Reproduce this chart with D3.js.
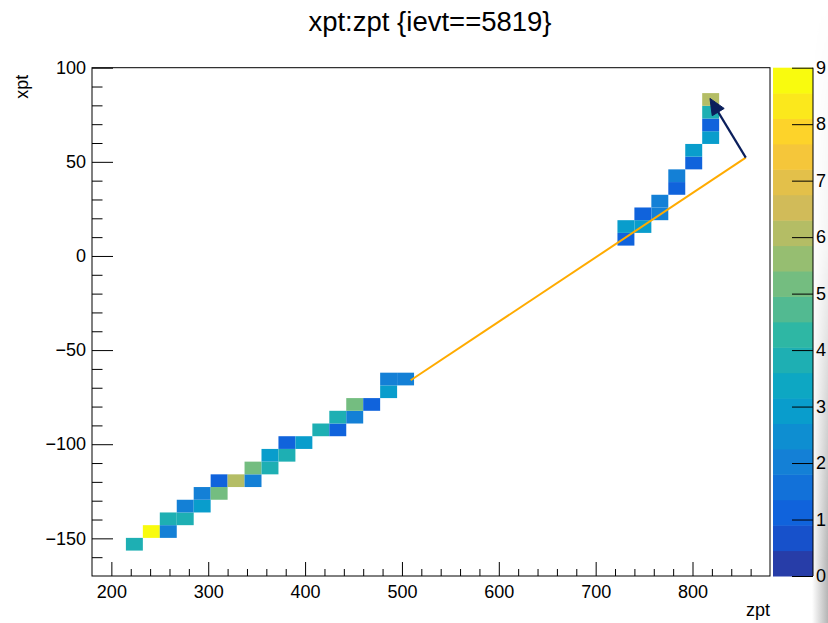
<!DOCTYPE html>
<html><head><meta charset="utf-8">
<script src="https://cdn.jsdelivr.net/npm/d3@7"></script>
<style>body{margin:0;background:#fff}svg{display:block;font-family:"Liberation Sans",Arial,Helvetica,sans-serif}</style>
</head><body><svg id="c" width="828" height="623"></svg>
<script>
// ---- data ----
const chartTitle = "xpt:zpt {ievt==5819}";
const zptRange = [180, 880];
const xptRange = [-170, 100];
const nBinsZpt = 40;
const nBinsXpt = 40;
// filled cells: bin index along zpt, bin index along xpt, bin content
const zptBin = [2,3,4,4,5,5,6,6,7,7,8,9,9,10,10,11,11,12,13,14,14,15,15,16,17,17,18,
                31,31,32,32,33,33,34,34,35,35,36,36,36,36];
const xptBin = [2,3,3,4,4,5,5,6,6,7,7,7,8,8,9,9,10,10,11,11,12,12,13,13,14,15,15,
                26,27,27,28,28,29,30,31,32,33,34,35,36,37];
const counts = [4,9,2,4,4,2,3,2,5,1,6,2,5,4,3,4,1,3,4,1,4,2,5,1,3,2,2,
                1,3,3,1,2,2,1,2,1,3,3,1,4,6];
const zptTicks = [200,300,400,500,600,700,800];
const xptTicks = [-150,-100,-50,0,50,100];
const zRange = [0, 9];
const zTicks = [0,1,2,3,4,5,6,7,8,9];
const nContours = 20;
const trackZ = [509, 855];
const trackX = [-66, 52.2];
const arrowZ = [855, 818];
const arrowX = [52.2, 83.7];
// kBird palette stops
const birdStops = [0.0000,0.1250,0.2500,0.3750,0.5000,0.6250,0.7500,0.8750,1.0000];
const birdR = [0.2082,0.0592,0.0780,0.0232,0.1802,0.5301,0.8186,0.9956,0.9764];
const birdG = [0.1664,0.3599,0.5041,0.6419,0.7178,0.7492,0.7328,0.7862,0.9832];
const birdB = [0.5293,0.8684,0.8385,0.7914,0.6425,0.4662,0.3499,0.1968,0.0539];

// ---- layout ----
const svg = d3.select("#c");
const fL = 92, fR = 770, fT = 67.7, fB = 576;
const pL = 773, pR = 813;
const x = d3.scaleLinear().domain(zptRange).range([fL, fR]);
const y = d3.scaleLinear().domain(xptRange).range([fB, fT]);
const z = d3.scaleLinear().domain(zRange).range([fB, fT]);

const rS = d3.scaleLinear().domain(birdStops).range(birdR);
const gS = d3.scaleLinear().domain(birdStops).range(birdG);
const bS = d3.scaleLinear().domain(birdStops).range(birdB);
function bird(t){ return d3.rgb(rS(t)*255, gS(t)*255, bS(t)*255).toString(); }
const nColors = 255;
function bandColor(i){
  const idx = Math.min(nColors-1, Math.floor((i+0.99)*nColors/nContours));
  return bird(idx/(nColors-1));
}
function valueColor(c){
  let i = Math.floor((c - zRange[0])/(zRange[1]-zRange[0])*nContours);
  i = Math.max(0, Math.min(nContours-1, i));
  return bandColor(i);
}

// shadow at right edge
const defs = svg.append("defs");
const hg = defs.append("linearGradient").attr("id","hg").attr("x1",0).attr("x2",1).attr("y1",0).attr("y2",0);
hg.append("stop").attr("offset",0).attr("stop-color","#fff");
hg.append("stop").attr("offset",1).attr("stop-color","#b5b5b5");
const vg = defs.append("linearGradient").attr("id","vg").attr("x1",0).attr("x2",0).attr("y1",0).attr("y2",1);
vg.append("stop").attr("offset",0).attr("stop-color","#fff").attr("stop-opacity",0);
vg.append("stop").attr("offset",0.4).attr("stop-color","#fff").attr("stop-opacity",0.15);
vg.append("stop").attr("offset",0.9).attr("stop-color","#fff").attr("stop-opacity",1);
vg.append("stop").attr("offset",1).attr("stop-color","#fff").attr("stop-opacity",1);
const mk = defs.append("mask").attr("id","mk");
mk.append("rect").attr("x",812).attr("y",0).attr("width",16).attr("height",623).attr("fill","url(#vg)");
svg.append("rect").attr("x",812).attr("y",0).attr("width",16).attr("height",623)
  .attr("fill","url(#hg)").attr("mask","url(#mk)");

// cells
const bwZ = (zptRange[1]-zptRange[0])/nBinsZpt;
const bwX = (xptRange[1]-xptRange[0])/nBinsXpt;
const cells = counts.map((c,i)=>({k:zptBin[i], j:xptBin[i], c}));
svg.append("g").selectAll("rect").data(cells).join("rect")
  .attr("x", d=>x(zptRange[0]+d.k*bwZ))
  .attr("width", d=>x(zptRange[0]+(d.k+1)*bwZ)-x(zptRange[0]+d.k*bwZ))
  .attr("y", d=>y(xptRange[0]+(d.j+1)*bwX))
  .attr("height", d=>y(xptRange[0]+d.j*bwX)-y(xptRange[0]+(d.j+1)*bwX))
  .attr("fill", d=>valueColor(d.c));

// frame
svg.append("rect").attr("x",fL).attr("y",fT).attr("width",fR-fL).attr("height",fB-fT)
  .attr("fill","none").attr("stroke","#000").attr("stroke-width",1);

// axes
const fmt = d3.format("");
const minorZ = d3.range(200, 880, 20).filter(v=>!zptTicks.includes(v));
const minorX = d3.range(-160, 100, 10).filter(v=>!xptTicks.includes(v));

const gx = svg.append("g").attr("transform",`translate(0,${fB})`);
gx.call(d3.axisBottom(x).tickValues(zptTicks).tickSizeInner(-14).tickSizeOuter(0).tickPadding(9).tickFormat(fmt));
gx.append("g").call(d3.axisBottom(x).tickValues(minorZ).tickSizeInner(-7).tickSizeOuter(0).tickFormat(""));
const gy = svg.append("g").attr("transform",`translate(${fL},0)`);
gy.call(d3.axisLeft(y).tickValues(xptTicks).tickSizeInner(-21).tickSizeOuter(0).tickPadding(6).tickFormat(d3.format("")));
gy.append("g").call(d3.axisLeft(y).tickValues(minorX).tickSizeInner(-10.5).tickSizeOuter(0).tickFormat(""));
svg.selectAll(".domain").remove();
svg.selectAll(".tick line").attr("stroke","#000").attr("stroke-width",1);
svg.selectAll(".tick text").attr("font-size",18).attr("fill","#000")
  .attr("font-family",'"Liberation Sans",Arial,sans-serif');

// palette
const bands = d3.range(nContours);
const dz = (zRange[1]-zRange[0])/nContours;
svg.append("g").selectAll("rect").data(bands).join("rect")
  .attr("x",pL).attr("width",pR-pL)
  .attr("y",i=>z(zRange[0]+(i+1)*dz))
  .attr("height",i=>z(zRange[0]+i*dz)-z(zRange[0]+(i+1)*dz)+0.5)
  .attr("fill",i=>bandColor(i));
const gz = svg.append("g").attr("transform",`translate(${pR},0)`);
gz.call(d3.axisRight(z).tickValues(zTicks).tickSizeInner(-21).tickSizeOuter(0).tickPadding(3).tickFormat(d3.format("")));
gz.select(".domain").attr("stroke","#000").attr("d",`M0,${fT}V${fB}`).attr("stroke-width",1);
gz.selectAll(".tick line").attr("stroke","#000");
gz.selectAll(".tick text").attr("font-size",18).attr("fill","#000");

// track line and arrow
svg.append("line")
  .attr("x1",x(trackZ[0])).attr("y1",y(trackX[0]))
  .attr("x2",x(trackZ[1])).attr("y2",y(trackX[1]))
  .attr("stroke","#ffab00").attr("stroke-width",2);
const ax1 = x(arrowZ[0]), ay1 = y(arrowX[0]), ax2 = x(arrowZ[1]), ay2 = y(arrowX[1]);
const ang = Math.atan2(ay2-ay1, ax2-ax1);
const hl = 16, hw = 7;
const bx = ax2 - hl*Math.cos(ang), by = ay2 - hl*Math.sin(ang);
svg.append("line").attr("x1",ax1).attr("y1",ay1).attr("x2",bx).attr("y2",by)
  .attr("stroke","#0b1f5c").attr("stroke-width",2.2);
svg.append("path")
  .attr("d",`M${ax2},${ay2}L${bx+hw*Math.sin(ang)},${by-hw*Math.cos(ang)}L${bx-hw*Math.sin(ang)},${by+hw*Math.cos(ang)}Z`)
  .attr("fill","#0b1f5c").attr("stroke","#0b1f5c").attr("stroke-width",1);

// titles
svg.append("text").attr("x",430).attr("y",31).attr("text-anchor","middle")
  .attr("font-size",27.5).attr("fill","#000").text(chartTitle);
svg.append("text").attr("x",fR).attr("y",616).attr("text-anchor","end")
  .attr("font-size",18).attr("fill","#000").text("zpt");
svg.append("text").attr("transform",`translate(28,${fT+7}) rotate(-90)`).attr("text-anchor","end")
  .attr("font-size",18).attr("fill","#000").text("xpt");
</script></body></html>
